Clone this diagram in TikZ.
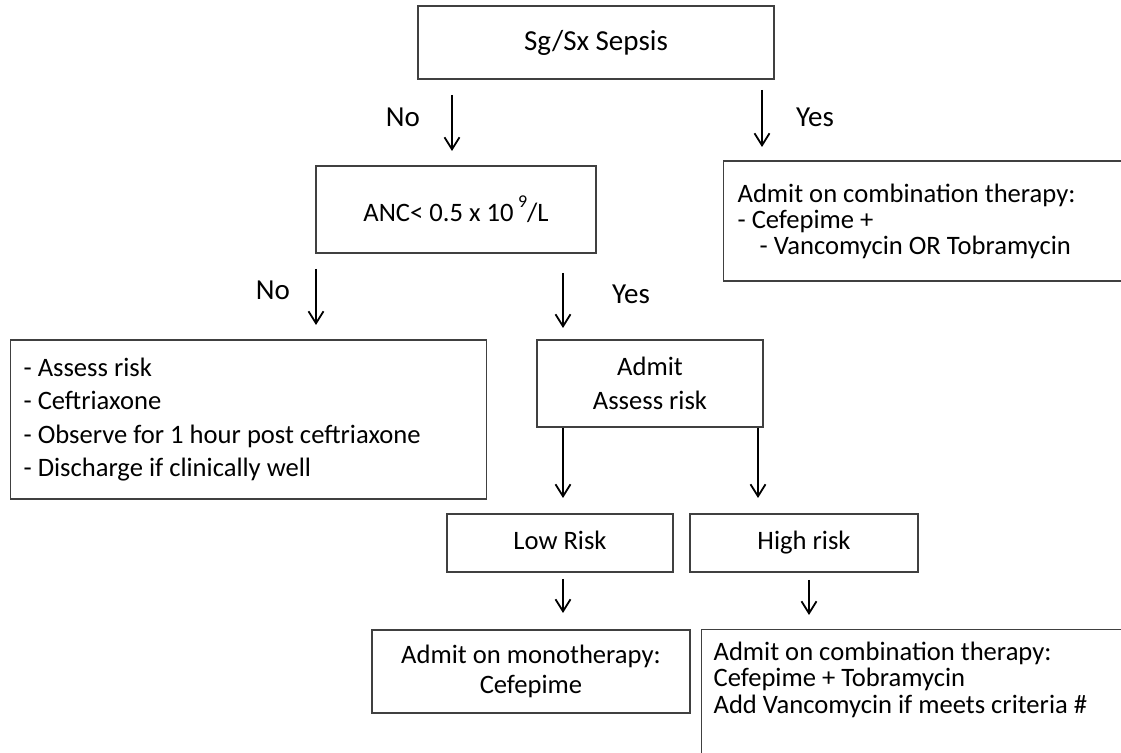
\documentclass[tikz,border=0pt]{standalone}
\usepackage{fontspec}
\setmainfont{Carlito}
\usetikzlibrary{arrows.meta}

\tikzset{
  box/.style={shape=rectangle, draw=black!75, line width=0.6pt, inner sep=0pt, align=center},
  lbox/.style={box, anchor=west, align=flush left, inner xsep=6.5pt},
  arr/.style={-{Straight Barb[length=6pt,width=7.5pt]}, line width=0.9pt},
  lbl/.style={font=\fontsize{14.5}{16}\selectfont},
}

\begin{document}
\begin{tikzpicture}[x=0.5pt, y=-0.5pt, font=\fontsize{13.3}{13.3}\selectfont]
    \useasboundingbox (0,0) rectangle (1121,753);
    \clip (0,0) rectangle (1121,753);

    \node[box, lbl, minimum width=178pt, minimum height=36.5pt] (sepsis) at (596,42.5) {Sg/Sx Sepsis};
    \node[box, minimum width=140pt, minimum height=43.5pt] (anc) at (456,209.5) {ANC< 0.5 x 10\,\raisebox{1.1ex}{\small 9}/L};
    \node[lbox, text width=194pt, minimum height=60pt, inner xsep=7pt, font=\fontsize{13.3}{13}\selectfont] (combi) at (723,221) {Admit on combination therapy:\\- Cefepime +\\\hspace*{11pt}- Vancomycin OR Tobramycin};

    \node[lbox, text width=225pt, minimum height=79.5pt, font=\fontsize{13.3}{16.6}\selectfont] (outpt) at (10,419.5) {- Assess risk\\- Ceftriaxone\\- Observe for 1 hour post ceftriaxone\\- Discharge if clinically well};
    \node[box, minimum width=113pt, minimum height=43.5pt, font=\fontsize{13.3}{17}\selectfont] (admit) at (650,383.5) {Admit\\Assess risk};

    \node[box, minimum width=113pt, minimum height=29pt, text height=0.75em, text depth=0.12em] (low) at (560,543) {Low Risk};
    \node[box, minimum width=114pt, minimum height=29pt, text height=0.75em, text depth=0.12em] (high) at (804,543) {High risk};

    \node[box, minimum width=159pt, minimum height=41.5pt, font=\fontsize{13.3}{15}\selectfont] (mono) at (531,671.5) {Admit on monotherapy:\\Cefepime};
    \node[box, anchor=north west, inner xsep=6pt, inner ysep=6pt] (combi2) at (701,629) {\parbox[c][60pt][t]{207pt}{\baselineskip=13.3pt Admit on combination therapy:\\Cefepime + Tobramycin\\Add Vancomycin if meets criteria \#}};

    % arrows
    \coordinate (no1a) at (452,95);   \coordinate (no1b) at (452,151);
    \coordinate (yes1a) at (762,90);  \coordinate (yes1b) at (762,147);
    \coordinate (no2a) at (316,269);  \coordinate (no2b) at (316,325);
    \coordinate (yes2a) at (563,273); \coordinate (yes2b) at (563,328);
    \coordinate (lowtip) at (563,498);
    \coordinate (hightip) at (758,498);
    \coordinate (low2a) at (563,579); \coordinate (low2b) at (563,613);
    \coordinate (high2a) at (809,580); \coordinate (high2b) at (809,615);

    \draw[arr] (no1a) -- (no1b);
    \draw[arr] (yes1a) -- (yes1b);
    \draw[arr] (no2a) -- (no2b);
    \draw[arr] (yes2a) -- (yes2b);
    \draw[arr] (admit.south -| lowtip) -- (lowtip);
    \draw[arr] (admit.south -| hightip) -- (hightip);
    \draw[arr] (low2a) -- (low2b);
    \draw[arr] (high2a) -- (high2b);

    % labels
    \node[lbl] (no1) at (403,117) {No};
    \node[lbl] (yes1) at (815,117) {Yes};
    \node[lbl] (no2) at (273,290) {No};
    \node[lbl] (yes2) at (631,294) {Yes};
\end{tikzpicture}
\end{document}
